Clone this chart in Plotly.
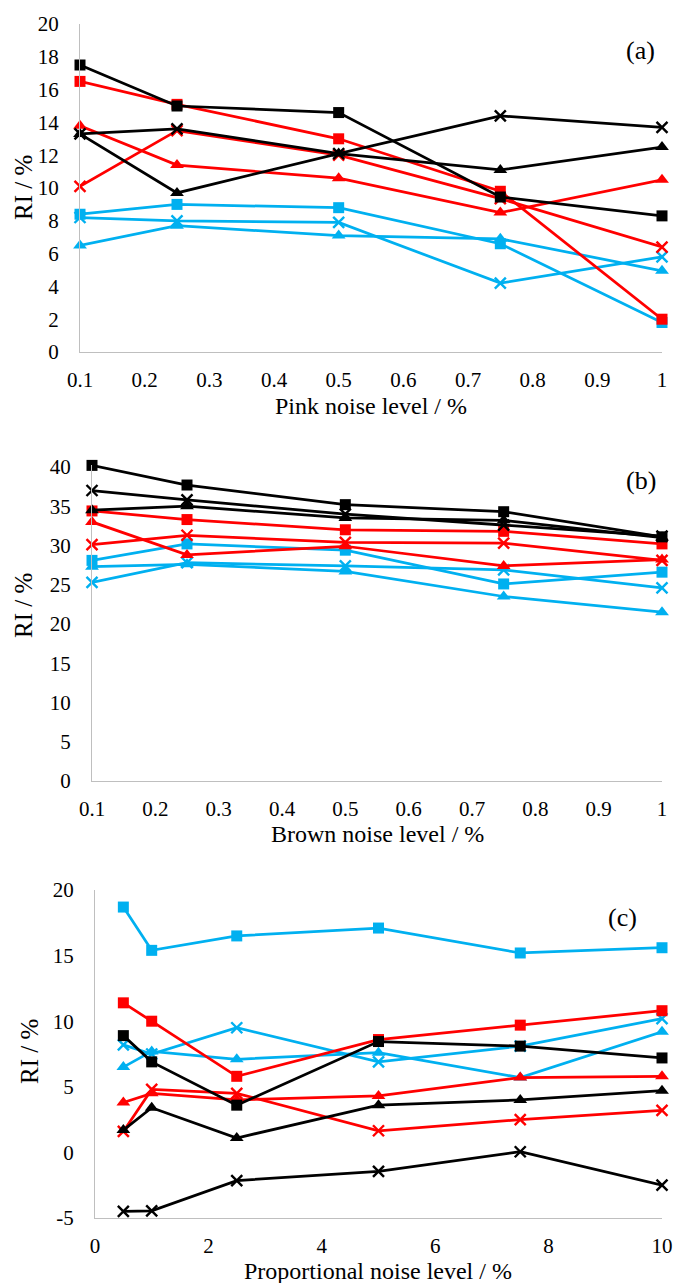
import plotly.graph_objects as go

W, H = 675, 1283

# ---------------- data ----------------
# Panel (a): pink noise
x_a = [0.1, 0.25, 0.5, 0.75, 1.0]
a_black_sq = [17.5, 15.0, 14.6, 9.45, 8.3]
a_black_x = [13.3, 13.6, 12.1, 14.4, 13.7]
a_black_tri = [13.3, 9.7, 12.1, 11.1, 12.5]
a_red_sq = [16.5, 15.1, 13.0, 9.8, 2.0]
a_red_x = [10.1, 13.5, 12.0, 9.35, 6.4]
a_red_tri = [13.8, 11.4, 10.6, 8.5, 10.5]
a_blue_sq = [8.4, 9.0, 8.8, 6.6, 1.8]
a_blue_x = [8.2, 8.0, 7.9, 4.2, 5.8]
a_blue_tri = [6.5, 7.7, 7.1, 6.9, 4.95]

# Panel (b): brown noise
x_b = [0.1, 0.25, 0.5, 0.75, 1.0]
b_black_sq = [40.2, 37.7, 35.2, 34.3, 31.1]
b_black_x = [37.0, 35.8, 34.0, 32.6, 31.2]
b_black_tri = [34.5, 35.0, 33.5, 33.2, 31.0]
b_red_sq = [34.4, 33.3, 32.0, 31.8, 30.2]
b_red_x = [30.1, 31.3, 30.4, 30.3, 28.1]
b_red_tri = [33.0, 28.8, 29.9, 27.4, 28.2]
b_blue_sq = [28.1, 30.2, 29.4, 25.1, 26.6]
b_blue_x = [25.3, 27.8, 27.4, 26.9, 24.6]
b_blue_tri = [27.3, 27.6, 26.7, 23.5, 21.5]

# Panel (c): proportional noise
x_c = [0.5, 1.0, 2.5, 5.0, 7.5, 10.0]
c_black_sq = [8.9, 6.9, 3.6, 8.45, 8.1, 7.2]
c_black_x = [-4.5, -4.45, -2.15, -1.45, 0.05, -2.5]
c_black_tri = [1.7, 3.4, 1.1, 3.6, 4.0, 4.7]
c_red_sq = [11.4, 10.0, 5.8, 8.6, 9.7, 10.8]
c_red_x = [1.6, 4.8, 4.5, 1.65, 2.5, 3.2]
c_red_tri = [3.8, 4.5, 4.0, 4.3, 5.7, 5.8]
c_blue_sq = [18.7, 15.4, 16.5, 17.1, 15.2, 15.6]
c_blue_x = [8.2, 7.5, 9.5, 6.9, 8.1, 10.2]
c_blue_tri = [6.5, 7.7, 7.1, 7.6, 5.7, 9.2]

# tick labels
x_ticks_ab = [0.1, 0.2, 0.3, 0.4, 0.5, 0.6, 0.7, 0.8, 0.9, 1.0]
x_ticktext_ab = ["0.1", "0.2", "0.3", "0.4", "0.5", "0.6", "0.7", "0.8", "0.9", "1"]
y_ticks_a = [0, 2, 4, 6, 8, 10, 12, 14, 16, 18, 20]
y_ticks_b = [0, 5, 10, 15, 20, 25, 30, 35, 40]
x_ticks_c = [0, 2, 4, 6, 8, 10]
y_ticks_c = [-5, 0, 5, 10, 15, 20]
y_ticktext_c = ["-5", "0", "5", "10", "15", "20"]

panel_labels = ["(a)", "(b)", "(c)"]
x_titles = ["Pink noise level / %", "Brown noise level / %", "Proportional noise level / %"]
y_title = "RI / %"

# ---------------- style ----------------
BLACK = "#000000"
RED = "#FF0000"
BLUE = "#00B0F0"
FONT = "Liberation Serif, Times New Roman, Times, serif"
AXIS_COLOR = "#BFBFBF"
LW = 2.75


def px_x(x):
    return x / W


def px_y(y):
    return 1 - y / H


fig = go.Figure()


def add_series(x, y, color, kind, axis_suffix):
    if kind == "sq":
        marker = dict(symbol="square", size=11, color=color)
    elif kind == "tri":
        marker = dict(symbol="triangle-up", size=12, color=color)
    else:
        marker = dict(symbol="x-thin", size=11, color=color,
                      line=dict(width=2.4, color=color))
    fig.add_trace(go.Scatter(
        x=x, y=y, mode="lines+markers",
        line=dict(color=color, width=LW),
        marker=marker, cliponaxis=False, showlegend=False,
        xaxis="x" + axis_suffix, yaxis="y" + axis_suffix,
    ))


panels = [
    ("", x_a, [(a_blue_sq, BLUE, "sq"), (a_blue_x, BLUE, "x"), (a_blue_tri, BLUE, "tri"),
               (a_red_sq, RED, "sq"), (a_red_x, RED, "x"), (a_red_tri, RED, "tri"),
               (a_black_sq, BLACK, "sq"), (a_black_x, BLACK, "x"), (a_black_tri, BLACK, "tri")]),
    ("2", x_b, [(b_blue_sq, BLUE, "sq"), (b_blue_x, BLUE, "x"), (b_blue_tri, BLUE, "tri"),
                (b_red_sq, RED, "sq"), (b_red_x, RED, "x"), (b_red_tri, RED, "tri"),
                (b_black_sq, BLACK, "sq"), (b_black_x, BLACK, "x"), (b_black_tri, BLACK, "tri")]),
    ("3", x_c, [(c_blue_sq, BLUE, "sq"), (c_blue_x, BLUE, "x"), (c_blue_tri, BLUE, "tri"),
                (c_red_sq, RED, "sq"), (c_red_x, RED, "x"), (c_red_tri, RED, "tri"),
                (c_black_sq, BLACK, "sq"), (c_black_x, BLACK, "x"), (c_black_tri, BLACK, "tri")]),
]
for suffix, xs, series in panels:
    for ys, col, kind in series:
        add_series(xs, ys, col, kind, suffix)

tickfont = dict(family=FONT, size=21, color="black")

# pixel geometry of plot areas: (left, right, top, bottom)
geo = [(80, 662, 24, 352), (92, 662, 465, 781), (95, 662, 890, 1218)]

common_x = dict(showline=True, linecolor=AXIS_COLOR, linewidth=1.3, showgrid=False,
                zeroline=False, ticks="", tickfont=tickfont, ticklabelstandoff=9,
                automargin=False)
common_y = dict(showline=True, linecolor=AXIS_COLOR, linewidth=1.3, showgrid=False,
                zeroline=False, ticks="", tickfont=tickfont, ticklabelstandoff=16,
                automargin=False)

layout = dict(
    width=W, height=H, margin=dict(l=0, r=0, t=0, b=0, autoexpand=False),
    plot_bgcolor="white", paper_bgcolor="white",
    font=dict(family=FONT, color="black"),
)

xa_cfg = [
    dict(range=[0.1, 1.0], tickvals=x_ticks_ab, ticktext=x_ticktext_ab),
    dict(range=[0.1, 1.0], tickvals=x_ticks_ab, ticktext=x_ticktext_ab),
    dict(range=[0, 10], tickvals=x_ticks_c),
]
ya_cfg = [
    dict(range=[0, 20], tickvals=y_ticks_a),
    dict(range=[0, 40.25], tickvals=y_ticks_b),
    dict(range=[-5, 20], tickvals=y_ticks_c, ticktext=y_ticktext_c),
]
names = ["", "2", "3"]
for i, (l, r, t, b) in enumerate(geo):
    n = names[i]
    layout["xaxis" + n] = dict(common_x, domain=[px_x(l), px_x(r)], anchor="y" + n, **xa_cfg[i])
    layout["yaxis" + n] = dict(common_y, domain=[px_y(b), px_y(t)], anchor="x" + n, **ya_cfg[i])

fig.update_layout(**layout)

annotations = []
# panel letters
letter_pos = [(640, 50), (641, 481), (622, 917)]
for lab, (px, py) in zip(panel_labels, letter_pos):
    annotations.append(dict(text=lab, x=px_x(px), y=px_y(py), xref="paper", yref="paper",
                            showarrow=False, xanchor="center", yanchor="middle",
                            font=dict(family=FONT, size=26, color="black")))
# x titles
xt_pos = [(371, 406), (377, 834), (378, 1271)]
for lab, (px, py) in zip(x_titles, xt_pos):
    annotations.append(dict(text=lab, x=px_x(px), y=px_y(py), xref="paper", yref="paper",
                            showarrow=False, xanchor="center", yanchor="middle",
                            font=dict(family=FONT, size=24, color="black")))
# y titles
yt_pos = [(23, 188), (24, 606), (29, 1051)]
for (px, py) in yt_pos:
    annotations.append(dict(text=y_title, x=px_x(px), y=px_y(py), xref="paper", yref="paper",
                            showarrow=False, xanchor="center", yanchor="middle", textangle=-90,
                            font=dict(family=FONT, size=25, color="black")))
fig.update_layout(annotations=annotations)

fig.write_html(
    "out.html",
    config={"displayModeBar": False},
    post_script="document.body.style.margin='0';document.body.style.overflow='hidden';",
)
